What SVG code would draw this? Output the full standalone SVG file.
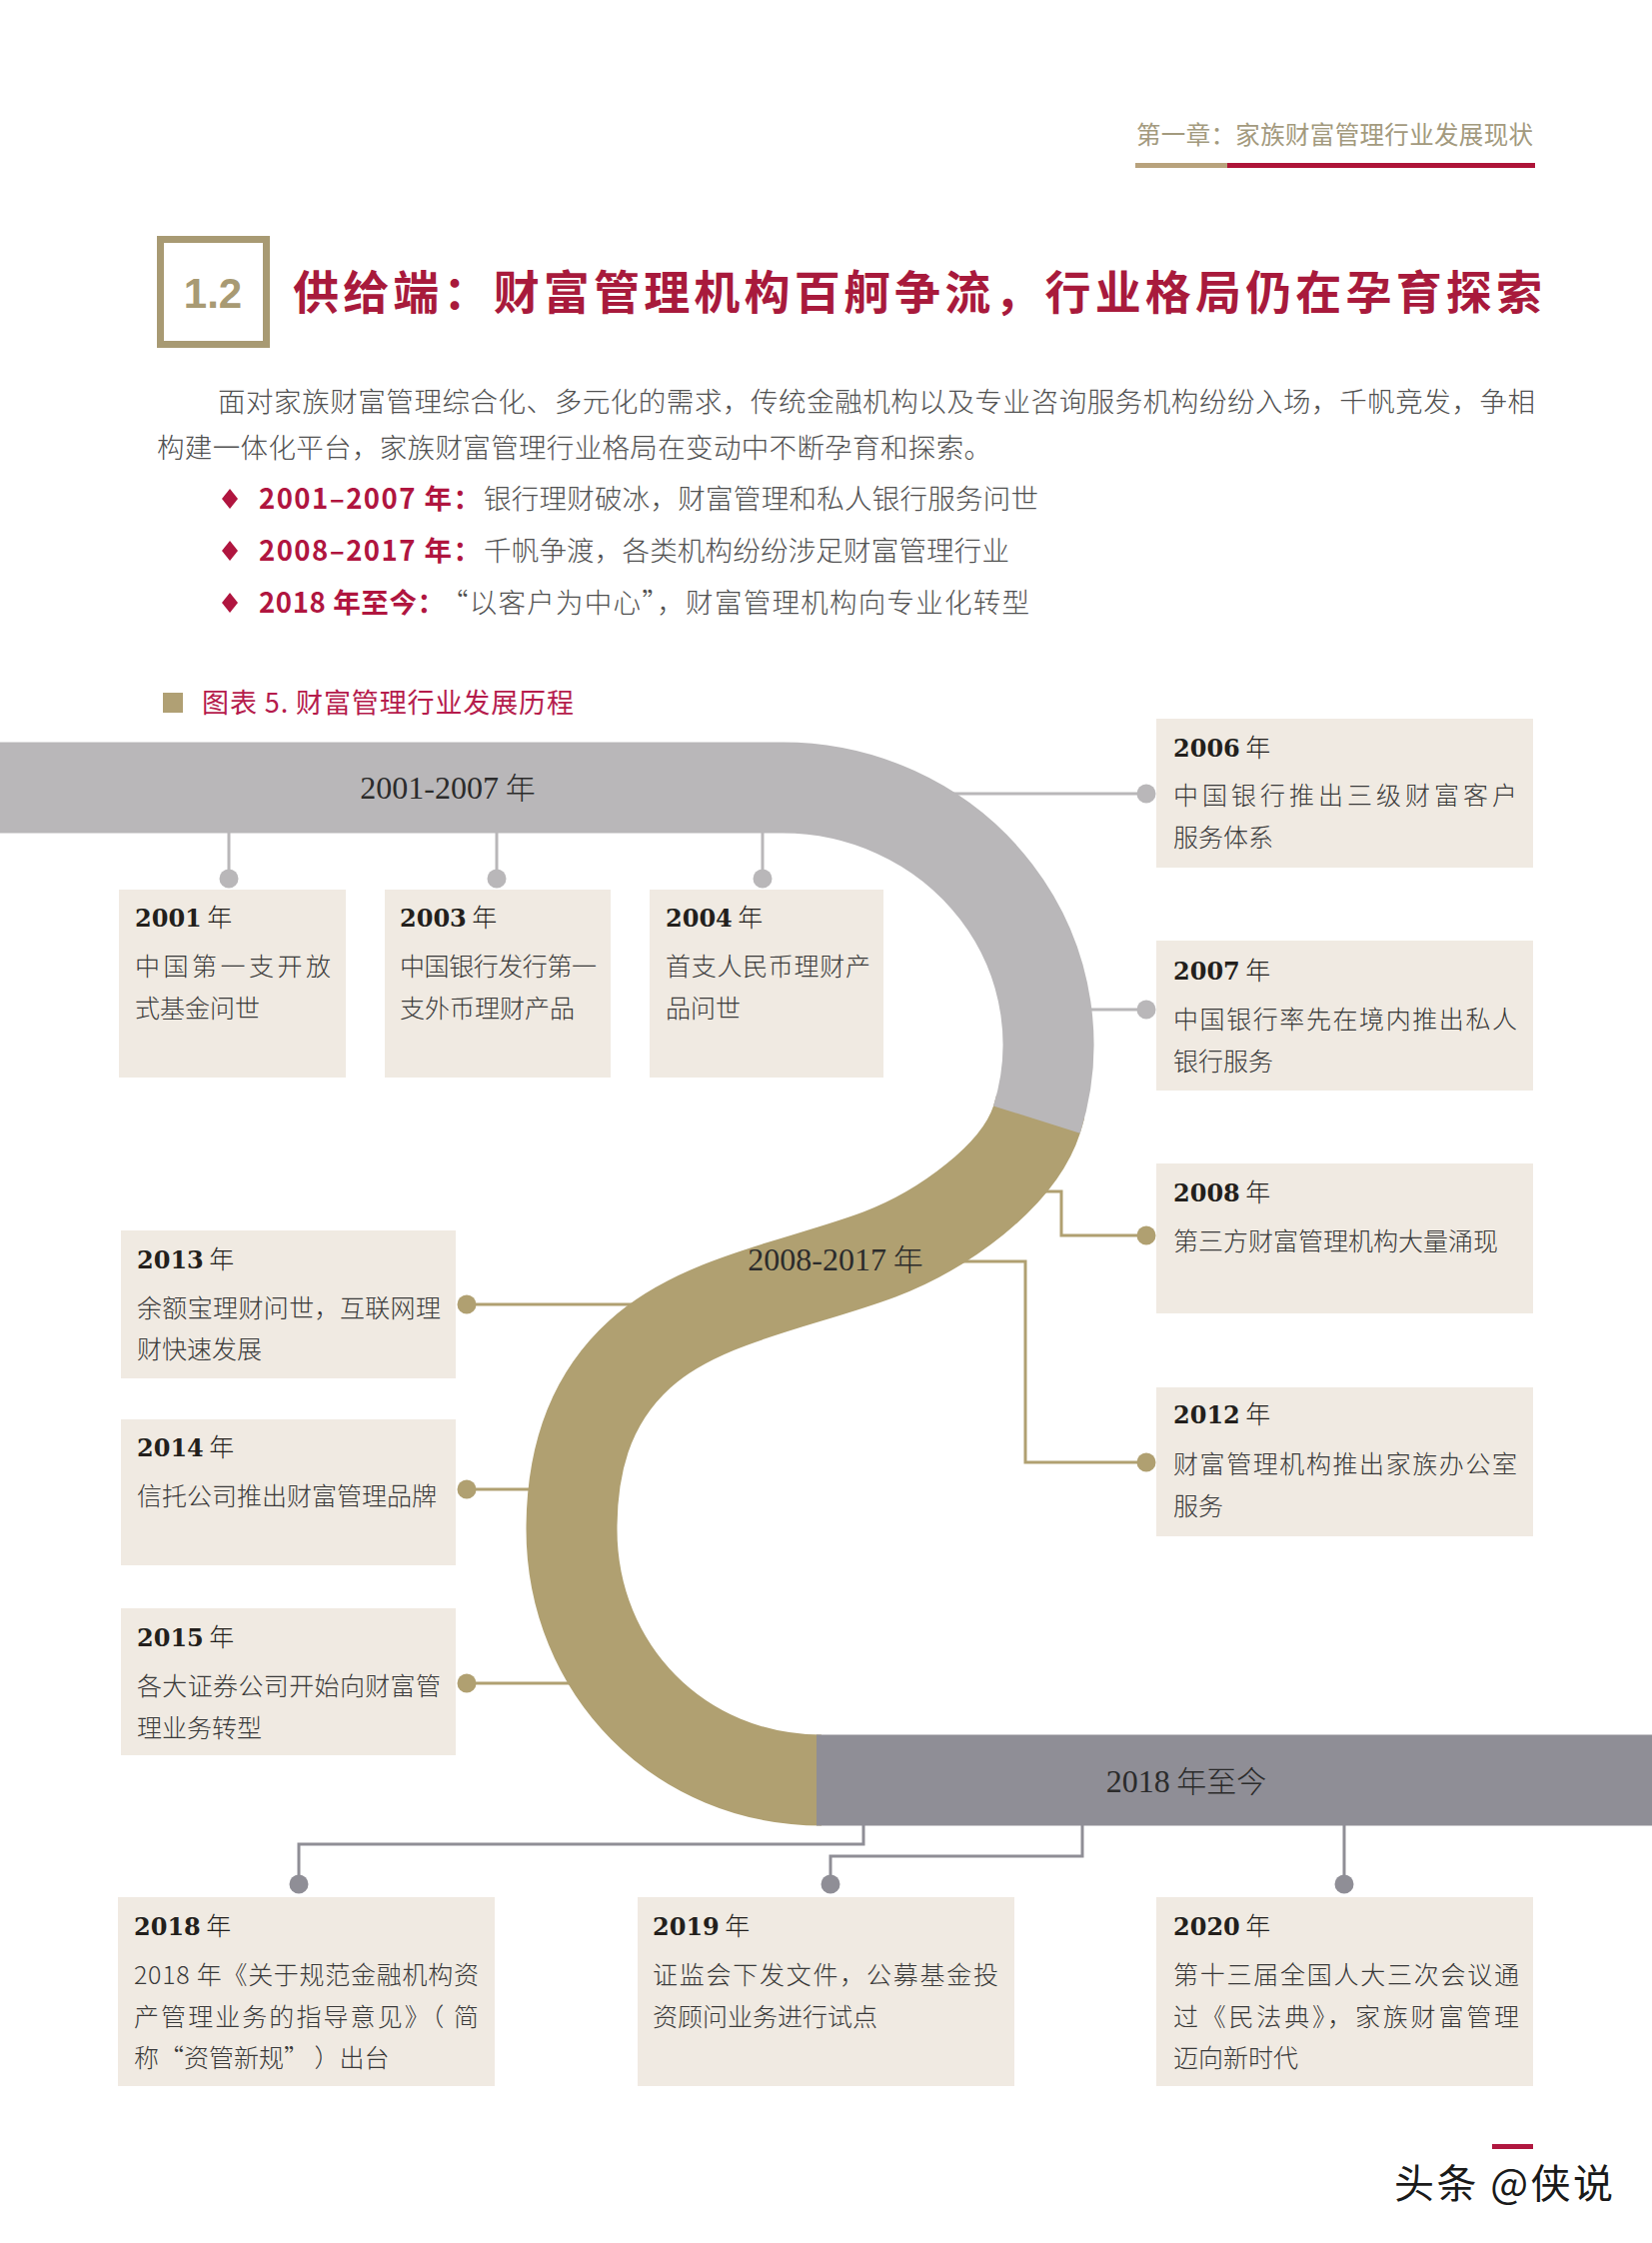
<svg xmlns="http://www.w3.org/2000/svg" width="1653" height="2244" viewBox="0 0 1653 2244">
<defs>
<style>
.body{font-family:"Noto Sans CJK SC","Noto Sans",sans-serif;font-size:25px;fill:#3a3a3a;font-weight:300}
.yr{font-family:"DejaVu Serif","Liberation Serif",serif;font-weight:bold;font-size:24px;fill:#231f1c}
.nian{font-family:"Noto Sans CJK SC",sans-serif;font-weight:300;font-size:25px}
.box{fill:#f0eae2}
.lg{stroke:#b9b7b9;stroke-width:3;fill:none}
.lt{stroke:#b0a071;stroke-width:3;fill:none}
.ld{stroke:#8f8e96;stroke-width:3;fill:none}
.dg{fill:#b9b7b9}
.dt{fill:#b0a071}
.dd{fill:#8f8e96}
.bl{font-family:"Liberation Serif",serif;font-size:32px;fill:#2b2b2b;text-anchor:middle}
.bn{font-family:"Noto Sans CJK SC",sans-serif;font-weight:300;font-size:30px}
.para{font-family:"Noto Sans CJK SC",sans-serif;font-size:27.5px;fill:#505050;font-weight:300}
.red{font-family:"Noto Sans CJK SC",sans-serif;font-size:27.5px;fill:#b0153f;font-weight:bold}
</style>
</defs>
<rect width="1653" height="2244" fill="#ffffff"/>

<g id="header">
<text x="1137" y="144" font-family="Noto Sans CJK SC, sans-serif" font-size="24.5" fill="#a39a7e" textLength="397">第一章：家族财富管理行业发展现状</text>
<rect x="1136" y="163" width="92" height="5" fill="#b8a27c"/>
<rect x="1228" y="163" width="308" height="5" fill="#ae1438"/>
</g>

<g id="title">
<rect x="160.5" y="239.5" width="106" height="105" fill="none" stroke="#a89a73" stroke-width="7"/>
<text x="213" y="308" font-family="Liberation Sans, sans-serif" font-weight="bold" font-size="42" fill="#a89a73" text-anchor="middle">1.2</text>
<text x="293" y="309" font-family="Noto Sans CJK SC, sans-serif" font-weight="bold" font-size="46" fill="#a81a3c" textLength="1250">供给端：财富管理机构百舸争流，行业格局仍在孕育探索</text>
</g>

<g id="intro">
<text class="para" x="218" y="412" textLength="1318">面对家族财富管理综合化、多元化的需求，传统金融机构以及专业咨询服务机构纷纷入场，千帆竞发，争相</text>
<text class="para" x="157" y="458" textLength="835">构建一体化平台，家族财富管理行业格局在变动中不断孕育和探索。</text>
<polygon points="230,489 238,499 230,509 222,499" fill="#b0153f"/>
<text class="red" x="259" y="509" textLength="222">2001–2007 年：</text>
<text class="para" x="484" y="509" textLength="555">银行理财破冰，财富管理和私人银行服务问世</text>
<polygon points="230,541 238,551 230,561 222,551" fill="#b0153f"/>
<text class="red" x="259" y="561" textLength="222">2008–2017 年：</text>
<text class="para" x="484" y="561" textLength="526">千帆争渡，各类机构纷纷涉足财富管理行业</text>
<polygon points="230,593 238,603 230,613 222,603" fill="#b0153f"/>
<text class="red" x="259" y="613" textLength="186">2018 年至今：</text>
<text class="para" x="441" y="613" textLength="589">“以客户为中心”，财富管理机构向专业化转型</text>
</g>

<g id="caption">
<rect x="163" y="693" width="20" height="20" fill="#b0a074"/>
<text x="202" y="713" font-family="Noto Sans CJK SC, sans-serif" font-size="27" fill="#b51b4c" textLength="372">图表 5. 财富管理行业发展历程</text>
</g>

<g id="connectors">
<path class="lg" d="M229 820 V878 M497 820 V878 M763 820 V878 M940 794 H1147 M1080 1010 H1147"/>
<path class="lt" d="M1030 1192 H1062 V1236 H1147 M950 1262 H1026 V1463 H1147 M467 1305 H650 M467 1490 H545 M467 1684 H590"/>
<path class="ld" d="M864 1810 V1845 H299 V1884 M1083 1810 V1857 H831 V1884 M1345 1810 V1884"/>
</g>

<g id="timeline-band">
<path d="M1041.1 1107.2 A266 257 0 0 1 1037.4 1120.1 C1019 1177 943 1231 880 1255 C800 1285 700 1300 640 1355 C585 1405 572 1470 572 1530 C572 1670 680 1781 822 1781" fill="none" stroke="#b0a071" stroke-width="91"/>
<path d="M0 788 H783 A266 257 0 0 1 1037.4 1120.1" fill="none" stroke="#b9b7b9" stroke-width="91"/>
<rect x="817" y="1735.5" width="836" height="91" fill="#8f8e96"/>
<text class="bl" x="448" y="799">2001-2007<tspan class="bn"> 年</tspan></text>
<text class="bl" x="836" y="1271">2008-2017<tspan class="bn"> 年</tspan></text>
<text class="bl" x="1187" y="1793">2018<tspan class="bn"> 年至今</tspan></text>
</g>

<g id="dots">
<circle class="dg" cx="229" cy="879" r="9.5"/>
<circle class="dg" cx="497" cy="879" r="9.5"/>
<circle class="dg" cx="763" cy="879" r="9.5"/>
<circle class="dg" cx="1147" cy="794" r="9.5"/>
<circle class="dg" cx="1147" cy="1010" r="9.5"/>
<circle class="dt" cx="1147" cy="1236" r="9.5"/>
<circle class="dt" cx="1147" cy="1463" r="9.5"/>
<circle class="dt" cx="467" cy="1305" r="9.5"/>
<circle class="dt" cx="467" cy="1490" r="9.5"/>
<circle class="dt" cx="467" cy="1684" r="9.5"/>
<circle class="dd" cx="299" cy="1885" r="9.5"/>
<circle class="dd" cx="831" cy="1885" r="9.5"/>
<circle class="dd" cx="1345" cy="1885" r="9.5"/>
</g>

<g id="node-2001">
<rect class="box" x="119" y="890" width="227" height="188"/>
<text class="yr" x="135" y="927">2001<tspan class="nian"> 年</tspan></text>
<text class="body" x="135" y="976" textLength="196">中国第一支开放</text>
<text class="body" x="135" y="1018">式基金问世</text>
</g>
<g id="node-2003">
<rect class="box" x="385" y="890" width="226" height="188"/>
<text class="yr" x="400" y="927">2003<tspan class="nian"> 年</tspan></text>
<text class="body" x="400" y="976" textLength="197">中国银行发行第一</text>
<text class="body" x="400" y="1018">支外币理财产品</text>
</g>
<g id="node-2004">
<rect class="box" x="650" y="890" width="234" height="188"/>
<text class="yr" x="666" y="927">2004<tspan class="nian"> 年</tspan></text>
<text class="body" x="666" y="976" textLength="205">首支人民币理财产</text>
<text class="body" x="666" y="1018">品问世</text>
</g>
<g id="node-2006">
<rect class="box" x="1157" y="719" width="377" height="149"/>
<text class="yr" x="1174" y="757">2006<tspan class="nian"> 年</tspan></text>
<text class="body" x="1174" y="805" textLength="344">中国银行推出三级财富客户</text>
<text class="body" x="1174" y="847">服务体系</text>
</g>
<g id="node-2007">
<rect class="box" x="1157" y="941" width="377" height="150"/>
<text class="yr" x="1174" y="980">2007<tspan class="nian"> 年</tspan></text>
<text class="body" x="1174" y="1029" textLength="344">中国银行率先在境内推出私人</text>
<text class="body" x="1174" y="1071">银行服务</text>
</g>
<g id="node-2008">
<rect class="box" x="1157" y="1164" width="377" height="150"/>
<text class="yr" x="1174" y="1202">2008<tspan class="nian"> 年</tspan></text>
<text class="body" x="1174" y="1251" textLength="325">第三方财富管理机构大量涌现</text>
</g>
<g id="node-2012">
<rect class="box" x="1157" y="1388" width="377" height="149"/>
<text class="yr" x="1174" y="1424">2012<tspan class="nian"> 年</tspan></text>
<text class="body" x="1174" y="1474" textLength="344">财富管理机构推出家族办公室</text>
<text class="body" x="1174" y="1516">服务</text>
</g>
<g id="node-2013">
<rect class="box" x="121" y="1231" width="335" height="148"/>
<text class="yr" x="137" y="1269">2013<tspan class="nian"> 年</tspan></text>
<text class="body" x="137" y="1318" textLength="304">余额宝理财问世，互联网理</text>
<text class="body" x="137" y="1359">财快速发展</text>
</g>
<g id="node-2014">
<rect class="box" x="121" y="1420" width="335" height="146"/>
<text class="yr" x="137" y="1457">2014<tspan class="nian"> 年</tspan></text>
<text class="body" x="137" y="1506" textLength="300">信托公司推出财富管理品牌</text>
</g>
<g id="node-2015">
<rect class="box" x="121" y="1609" width="335" height="147"/>
<text class="yr" x="137" y="1647">2015<tspan class="nian"> 年</tspan></text>
<text class="body" x="137" y="1696" textLength="304">各大证券公司开始向财富管</text>
<text class="body" x="137" y="1738">理业务转型</text>
</g>
<g id="node-2018">
<rect class="box" x="118" y="1898" width="377" height="189"/>
<text class="yr" x="134" y="1936">2018<tspan class="nian"> 年</tspan></text>
<text class="body" x="134" y="1985" textLength="345">2018 年《关于规范金融机构资</text>
<text class="body" x="134" y="2027" textLength="345">产管理业务的指导意见》（ 简</text>
<text class="body" x="134" y="2068">称“资管新规” ）出台</text>
</g>
<g id="node-2019">
<rect class="box" x="638" y="1898" width="377" height="189"/>
<text class="yr" x="653" y="1936">2019<tspan class="nian"> 年</tspan></text>
<text class="body" x="653" y="1985" textLength="346">证监会下发文件，公募基金投</text>
<text class="body" x="653" y="2027">资顾问业务进行试点</text>
</g>
<g id="node-2020">
<rect class="box" x="1157" y="1898" width="377" height="189"/>
<text class="yr" x="1174" y="1936">2020<tspan class="nian"> 年</tspan></text>
<text class="body" x="1174" y="1985" textLength="346">第十三届全国人大三次会议通</text>
<text class="body" x="1174" y="2027" textLength="346">过《民法典》，家族财富管理</text>
<text class="body" x="1174" y="2068">迈向新时代</text>
</g>

<g id="footer">
<rect x="1493" y="2145" width="41" height="5" fill="#b0173f"/>
<text x="1395" y="2199" font-family="Noto Sans CJK SC, sans-serif" font-size="40" fill="#1a1a1a" stroke="#ffffff" stroke-width="2" paint-order="stroke" textLength="219">头条 @侠说</text>
</g>
</svg>
